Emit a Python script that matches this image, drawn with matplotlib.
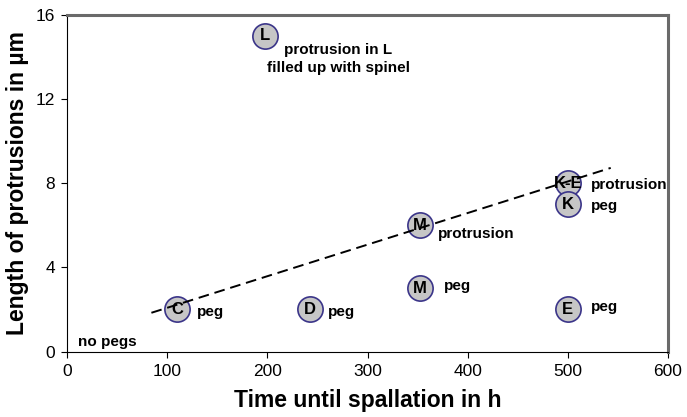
import matplotlib.pyplot as plt

plt.rcParams['font.family'] = ['Liberation Sans', 'DejaVu Sans']

# --- DATA ---
time_h = [198, 110, 242, 352, 352, 500, 500, 500]
length_um = [15, 2, 2, 6, 3, 8, 7, 2]
point_ids = ["L", "C", "D", "M", "M", "K-E", "K", "E"]

# side notes: (x, y, text)
notes_x = [130, 260, 370, 376, 523, 523, 523, 11]
notes_y = [1.9, 1.9, 5.6, 3.1, 7.9, 6.9, 2.1, 0.45]
notes_text = ["peg", "peg", "protrusion", "peg", "protrusion", "peg", "peg", "no pegs"]

# fit line endpoints
fit_x = [84, 543]
fit_y = [1.84, 8.72]

# --- PLOT ---
fig, ax = plt.subplots(figsize=(6.87, 4.17), dpi=100)
fig.subplots_adjust(left=0.098, right=0.972, top=0.965, bottom=0.157)

ax.plot(fit_x, fit_y, color="black", linestyle=(0, (5.5, 3)), linewidth=1.4, zorder=3)
ax.scatter(time_h, length_um, s=330, facecolor="#c6c6c6", edgecolor="#3b3589",
           linewidth=1.2, zorder=2)

for x, y, t in zip(time_h, length_um, point_ids):
    ax.text(x, y, t, ha="center", va="center", fontsize=12, fontweight="bold", zorder=4)

for x, y, t in zip(notes_x, notes_y, notes_text):
    ax.text(x, y, t, ha="left", va="center", fontsize=11, fontweight="bold")

ax.text(271, 13.9, "protrusion in L\nfilled up with spinel", ha="center", va="center",
        fontsize=11, fontweight="bold", linespacing=1.4)

ax.set_xlim(0, 600)
ax.set_ylim(0, 16)
ax.set_xticks(range(0, 601, 100))
ax.set_yticks([0, 4, 8, 12, 16])
ax.tick_params(labelsize=12.5, direction="out", length=4, pad=5)
ax.set_xlabel("Time until spallation in h", fontsize=16.5, fontweight="bold", labelpad=7)
ax.set_ylabel("Length of protrusions in µm", fontsize=16.5, fontweight="bold", labelpad=5)

for side in ["top", "right"]:
    ax.spines[side].set_color("#6a6a6a")
    ax.spines[side].set_linewidth(2.2)

plt.savefig("out.png", dpi=100)
